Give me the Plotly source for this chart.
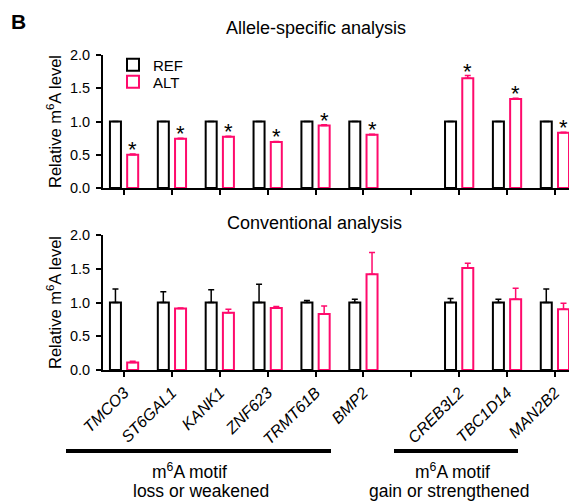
import plotly.graph_objects as go

categories = ["TMCO3", "ST6GAL1", "KANK1", "ZNF623", "TRMT61B", "BMP2", " ",
              "CREB3L2", "TBC1D14", "MAN2B2"]

# Allele-specific analysis
as_ref = [1.0, 1.0, 1.0, 1.0, 1.0, 1.0, None, 1.0, 1.0, 1.0]
as_ref_err = [0, 0, 0, 0, 0, 0, None, 0, 0, 0]
as_alt = [0.50, 0.74, 0.77, 0.69, 0.94, 0.80, None, 1.65, 1.34, 0.83]
as_alt_err = [0.01, 0.01, 0.01, 0.01, 0.01, 0.01, None, 0.04, 0.01, 0.01]
as_sig = [True, True, True, True, True, True, False, True, True, True]

# Conventional analysis
cv_ref = [1.0, 1.0, 1.0, 1.0, 1.0, 1.0, None, 1.0, 1.0, 1.0]
cv_ref_err = [0.20, 0.16, 0.19, 0.27, 0.03, 0.05, None, 0.06, 0.05, 0.20]
cv_alt = [0.11, 0.91, 0.85, 0.92, 0.83, 1.42, None, 1.51, 1.05, 0.90]
cv_alt_err = [0.02, 0.01, 0.05, 0.02, 0.12, 0.32, None, 0.07, 0.16, 0.09]

y_ticks = [0, 0.5, 1, 1.5, 2]
y_ticktext = ["0.0", "0.5", "1.0", "1.5", "2.0"]

REF_COLOR = "black"
ALT_COLOR = "#FF0A6C"
FONT = "Liberation Sans, Arial, sans-serif"
BAR_W = 0.23
OFF = 0.18

# page body has an 8px margin; figure sized to fill the rest of the window
PAD = 8
W, H = 577 - PAD, 501 - PAD


def sx(x):
    return (x - PAD) / W


def sy(y):
    return 1 - (y - PAD) / H


x_dom = [sx(103), sx(575)]
top_dom = [sy(188), sy(55)]
bot_dom = [sy(370), sy(235)]

fig = go.Figure()


def add_pair(ref, ref_err, alt, alt_err, xa, ya, show):
    for name, vals, errs, col, off, lg in [("REF", ref, ref_err, REF_COLOR, -OFF, "legend"),
                                           ("ALT", alt, alt_err, ALT_COLOR, OFF, "legend2")]:
        fig.add_trace(go.Bar(
            x=categories, y=vals, name=name, xaxis=xa, yaxis=ya,
            width=BAR_W, offset=off - BAR_W / 2,
            marker=dict(color="white", line=dict(color=col, width=2)),
            error_y=dict(type="data", array=[e if e is not None else 0 for e in errs],
                         arrayminus=[0] * len(errs), symmetric=False,
                         color=col, thickness=1.5, width=3),
            showlegend=show, legend=lg,
        ))


add_pair(as_ref, as_ref_err, as_alt, as_alt_err, "x", "y", True)
add_pair(cv_ref, cv_ref_err, cv_alt, cv_alt_err, "x2", "y2", False)

# significance asterisks
for i, (c, v, e, s) in enumerate(zip(categories, as_alt, as_alt_err, as_sig)):
    if s:
        fig.add_annotation(x=i + OFF, y=v + e, xref="x", yref="y", text="*",
                           showarrow=False, yanchor="bottom", yshift=-10,
                           font=dict(family=FONT, size=22, color="black"))

axis_common = dict(showline=True, linecolor="black", linewidth=2, ticks="outside",
                   tickcolor="black", tickwidth=2, ticklen=5, showgrid=False,
                   zeroline=False, mirror=False)

xr = [-0.44, 9.42]
leg_common = dict(xanchor="left", yanchor="middle", bgcolor="rgba(0,0,0,0)",
                  font=dict(family=FONT, size=15, color="black"), itemwidth=30,
                  borderwidth=0)
ytitle = dict(text="Relative m<sup>6</sup>A level", standoff=4,
              font=dict(family=FONT, size=16.5, color="black"))
ytickfont = dict(family=FONT, size=14.5, color="black")
fig.update_layout(
    xaxis=dict(domain=x_dom, anchor="y", type="category", categoryorder="array",
               categoryarray=categories, range=xr, showticklabels=False, **axis_common),
    yaxis=dict(domain=top_dom, anchor="x", range=[0, 2.0], tickvals=y_ticks,
               ticktext=y_ticktext, tickfont=ytickfont, ticklabelstandoff=3,
               title=ytitle, **axis_common),
    xaxis2=dict(domain=x_dom, anchor="y2", type="category", categoryorder="array",
                categoryarray=categories, range=xr, tickangle=-45,
                tickfont=dict(family=FONT, size=16, color="black", style="italic"),
                **axis_common),
    yaxis2=dict(domain=bot_dom, anchor="x2", range=[0, 2.0], tickvals=y_ticks,
                ticktext=y_ticktext, tickfont=ytickfont, ticklabelstandoff=3,
                title=ytitle, **axis_common),
    barmode="overlay",
    width=W, height=H,
    margin=dict(l=0, r=0, t=0, b=0, autoexpand=False),
    paper_bgcolor="white", plot_bgcolor="white",
    font=dict(family=FONT, color="black"),
    legend=dict(x=sx(113), y=sy(65), **leg_common),
    legend2=dict(x=sx(113), y=sy(82), **leg_common),
)

# panel label and titles
fig.add_annotation(text="<b>B</b>", x=sx(9), y=sy(8), xref="paper", yref="paper",
                   xanchor="left", yanchor="top", showarrow=False,
                   font=dict(family=FONT, size=21, color="black"))
fig.add_annotation(text="Allele-specific analysis", x=sx(316), y=sy(28),
                   xref="paper", yref="paper", showarrow=False,
                   xanchor="center", yanchor="middle",
                   font=dict(family=FONT, size=18, color="black"))
fig.add_annotation(text="Conventional analysis", x=sx(314), y=sy(223),
                   xref="paper", yref="paper", showarrow=False,
                   xanchor="center", yanchor="middle",
                   font=dict(family=FONT, size=18, color="black"))

# group bars and labels
line_y = sy(451)
fig.add_shape(type="line", xref="paper", yref="paper", x0=sx(66), x1=sx(331),
              y0=line_y, y1=line_y, line=dict(color="black", width=4))
fig.add_shape(type="line", xref="paper", yref="paper", x0=sx(394), x1=sx(518),
              y0=line_y, y1=line_y, line=dict(color="black", width=4))
grp_font = dict(family=FONT, size=17.5, color="black")
for txt, x, y in [("m<sup>6</sup>A motif", 189, 471), ("loss or weakened", 201, 491),
                  ("m<sup>6</sup>A motif", 452, 471), ("gain or strengthened", 450, 491)]:
    fig.add_annotation(text=txt, x=sx(x), y=sy(y), xref="paper", yref="paper",
                       showarrow=False, xanchor="center", yanchor="middle", font=grp_font)

fig.write_html("out.html")
